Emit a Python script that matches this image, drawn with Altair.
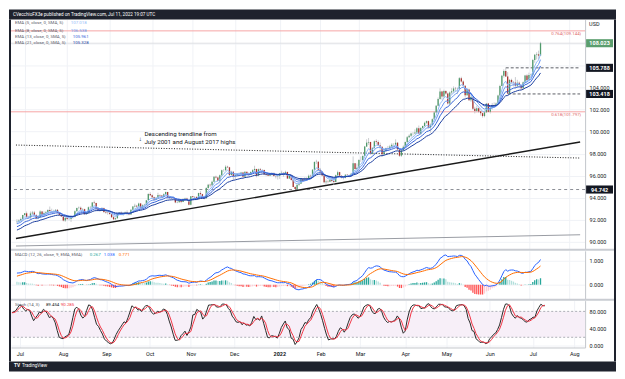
import altair as alt
import pandas as pd
import numpy as np

# ---------------- data (DXY daily) ----------------
# warm-up bars before the visible window (2021-05-14 .. 2021-06-24), used only for indicators
warm_first_open = 90.72
warm_close = [90.32, 90.18, 89.83, 90.20, 89.76, 90.01, 89.81, 89.60, 90.05, 89.97, 90.03, 89.83,
              89.85, 89.90, 90.52, 90.13, 89.93, 90.07, 90.09, 90.06, 90.55, 90.51, 90.53, 91.36,
              91.90, 92.23, 91.88, 91.74, 91.80, 91.81]
warm_high = [90.80, 90.40, 90.20, 90.40, 90.20, 90.15, 90.05, 89.85, 90.10, 90.15, 90.30, 90.05,
             89.95, 89.95, 90.63, 90.60, 90.15, 90.15, 90.15, 90.25, 90.60, 90.65, 90.65, 91.40,
             91.95, 92.40, 92.30, 91.95, 91.95, 91.90]
warm_low = [90.25, 90.05, 89.65, 89.70, 89.70, 89.70, 89.75, 89.53, 89.60, 89.85, 89.95, 89.80,
            89.53, 89.65, 89.90, 90.00, 89.90, 89.85, 89.95, 89.85, 89.95, 90.40, 90.35, 90.40,
            91.25, 91.80, 91.85, 91.50, 91.50, 91.60]

# visible bars 2021-06-25 .. 2022-07-11 (weekdays)
close = [91.85, 91.93, 92.06, 92.44,
         92.58, 92.23, 92.22, 92.57, 92.65, 92.42, 92.13, 92.23, 92.74, 92.43, 92.62, 92.68, 92.88, 92.80, 92.78, 92.78, 92.90, 92.65, 92.44, 92.30, 91.92, 92.17,
         92.06, 92.06, 92.27, 92.25, 92.78, 93.06, 93.08, 92.93, 92.96, 92.51, 92.64, 93.13, 93.14, 93.56, 93.52, 93.03, 92.86, 92.82, 93.07, 92.69, 92.65, 92.63,
         92.51, 92.23, 92.04, 92.13, 92.52, 92.63, 92.51, 92.58, 92.66, 92.62, 92.47, 92.90, 93.19, 93.28, 93.20, 93.48, 93.11, 93.32, 93.36, 93.76, 94.34, 94.23,
         94.04, 93.82, 94.00, 94.24, 94.20, 94.07, 94.32, 94.52, 94.04, 93.97, 93.96, 93.95, 93.57, 93.58, 93.77, 93.62, 93.87, 93.92, 93.80, 93.36, 94.12,
         94.06, 94.05, 93.88, 94.42, 94.32, 94.04, 93.96, 94.87, 95.17, 95.13, 95.45, 95.91, 95.83, 95.54, 96.04, 96.50, 96.49, 96.81, 96.76, 96.05, 96.35, 95.98,
         96.03, 96.14, 96.15, 96.28, 95.89, 96.35, 96.17, 96.08, 96.33, 96.50, 96.61, 96.01, 96.58, 96.52, 96.52, 96.12, 96.05, 96.00, 96.09, 96.21, 95.97, 95.95, 95.97,
         96.21, 96.26, 96.17, 96.34, 95.74, 95.99, 95.61, 94.98, 94.80, 95.17, 95.27, 95.73, 95.52, 95.75, 95.64, 95.99, 95.95, 96.54, 97.24, 97.26, 96.54,
         96.38, 96.02, 95.40, 95.47, 95.44, 95.64, 95.51, 95.43, 96.03, 96.32, 95.99, 95.80, 95.80, 96.08, 96.06, 96.02, 96.18, 97.13, 96.61, 96.71,
         97.43, 97.42, 97.79, 98.64, 99.00, 99.06, 97.98, 98.50, 99.12, 99.05, 98.77, 98.62, 97.95, 98.24, 98.50, 98.48, 98.64, 98.80, 98.80, 98.99, 98.39, 97.81, 98.31,
         98.63, 99.05, 99.48, 99.62, 99.83, 99.82, 99.91, 100.31, 99.81, 100.33, 100.50, 100.80, 100.95, 100.38, 100.62, 101.11, 101.74, 102.34, 102.96, 103.63, 103.19,
         103.69, 103.46, 102.55, 103.55, 103.66, 103.92, 103.90, 103.91, 104.85, 104.55, 104.17, 103.29, 103.82, 102.84, 103.14, 102.08, 101.86, 102.12, 101.83, 101.67, 101.41, 101.75,
         102.54, 101.81, 102.17, 102.42, 102.35, 102.55, 103.27, 104.15, 105.08, 105.51, 105.00, 103.46, 104.69, 104.48, 104.45, 104.17, 104.43, 104.22, 103.94, 104.48, 105.09, 104.69,
         105.14, 105.15, 106.51, 106.98, 107.01, 106.90, 108.02]
high = [92.05, 92.05, 92.20, 92.45,
        92.60, 92.75, 92.35, 92.75, 92.80, 92.80, 92.50, 92.40, 92.85, 92.80, 92.75, 92.80, 92.95, 93.20, 93.00, 92.90, 92.95, 92.95, 92.70, 92.60, 92.30, 92.20,
        92.20, 92.20, 92.35, 92.35, 92.85, 93.10, 93.20, 93.20, 93.05, 93.00, 92.70, 93.20, 93.25, 93.60, 93.73, 93.55, 93.10, 93.05, 93.15, 93.10, 92.80, 92.75,
        92.70, 92.55, 92.35, 92.20, 92.60, 92.70, 92.75, 92.65, 92.75, 92.85, 92.70, 92.95, 93.25, 93.45, 93.35, 93.55, 93.50, 93.40, 93.45, 93.80, 94.40, 94.50,
        94.30, 94.10, 94.05, 94.45, 94.30, 94.25, 94.40, 94.56, 94.50, 94.10, 94.10, 94.10, 93.95, 93.70, 93.85, 93.80, 93.95, 94.00, 94.00, 93.85, 94.15,
        94.15, 94.15, 94.15, 94.45, 94.60, 94.35, 94.10, 94.95, 95.25, 95.27, 95.55, 95.95, 96.00, 95.90, 96.10, 96.55, 96.60, 96.94, 96.90, 96.80, 96.45, 96.40,
        96.20, 96.25, 96.30, 96.35, 96.35, 96.40, 96.35, 96.30, 96.40, 96.60, 96.90, 96.60, 96.65, 96.70, 96.60, 96.55, 96.20, 96.10, 96.15, 96.30, 96.30, 96.05, 96.10,
        96.25, 96.45, 96.30, 96.45, 96.35, 96.10, 96.05, 95.65, 95.05, 95.20, 95.30, 95.80, 95.75, 95.85, 95.85, 96.10, 96.10, 96.60, 97.30, 97.44, 97.30,
        96.70, 96.40, 96.05, 95.65, 95.60, 95.75, 95.70, 95.80, 96.10, 96.45, 96.35, 96.05, 95.95, 96.15, 96.15, 96.10, 96.25, 97.75, 97.15, 97.10,
        97.50, 97.75, 97.85, 98.70, 99.30, 99.42, 99.05, 98.60, 99.20, 99.30, 99.20, 99.00, 98.65, 98.35, 98.55, 98.70, 98.80, 98.95, 98.95, 99.30, 99.05, 98.45, 98.40,
        98.75, 99.10, 99.60, 99.75, 99.90, 99.95, 100.20, 100.40, 100.55, 100.40, 100.55, 100.90, 101.00, 101.00, 100.75, 101.20, 101.85, 102.40, 103.10, 103.93, 103.70,
        103.80, 103.75, 103.55, 103.65, 103.95, 104.10, 104.05, 104.00, 104.95, 104.98, 104.65, 104.20, 103.95, 103.90, 103.35, 103.15, 102.25, 102.35, 102.20, 101.90, 101.70, 101.90,
        102.60, 102.60, 102.30, 102.60, 102.65, 102.65, 103.35, 104.25, 105.15, 105.65, 105.79, 105.40, 104.78, 104.80, 104.60, 104.95, 104.70, 104.55, 104.25, 104.55, 105.15, 105.20,
        105.35, 105.25, 106.60, 107.05, 107.20, 107.35, 108.15]
low = [91.60, 91.75, 91.85, 92.00,
       92.35, 92.20, 92.10, 92.00, 92.45, 92.30, 92.05, 92.05, 92.15, 92.35, 92.25, 92.50, 92.60, 92.75, 92.65, 92.60, 92.70, 92.60, 92.40, 92.25, 91.85, 91.80,
       91.95, 91.95, 91.80, 92.10, 92.20, 92.75, 92.95, 92.85, 92.80, 92.45, 92.45, 92.60, 92.95, 93.10, 93.40, 92.95, 92.80, 92.75, 92.80, 92.60, 92.55, 92.45,
       92.45, 92.15, 91.95, 92.00, 92.10, 92.45, 92.40, 92.35, 92.55, 92.40, 92.40, 92.45, 92.85, 93.10, 93.05, 93.10, 93.00, 93.05, 93.20, 93.35, 93.75, 94.15,
       93.90, 93.75, 93.80, 93.95, 94.10, 94.00, 94.05, 94.25, 93.95, 93.85, 93.85, 93.85, 93.50, 93.50, 93.55, 93.50, 93.60, 93.80, 93.75, 93.30, 93.30,
       93.95, 93.90, 93.85, 93.85, 94.20, 93.95, 93.85, 93.90, 94.80, 94.95, 95.05, 95.40, 95.75, 95.50, 95.30, 95.95, 96.35, 96.45, 96.70, 95.95, 96.05, 95.55,
       95.70, 95.95, 95.95, 96.05, 95.85, 95.85, 96.05, 95.95, 96.05, 96.25, 96.35, 95.85, 95.95, 96.40, 96.30, 96.05, 95.95, 95.95, 95.95, 96.00, 95.90, 95.75, 95.65,
       95.70, 96.05, 95.90, 96.05, 95.70, 95.70, 95.55, 94.95, 94.78, 94.74, 95.05, 95.25, 95.45, 95.45, 95.55, 95.60, 95.80, 95.85, 96.45, 97.05, 96.50,
       96.25, 95.95, 95.30, 95.15, 95.30, 95.40, 95.40, 95.15, 95.40, 95.95, 95.90, 95.75, 95.65, 95.75, 95.85, 95.85, 95.95, 96.15, 96.55, 96.60,
       96.65, 97.25, 97.35, 97.75, 98.60, 98.80, 97.90, 97.95, 98.45, 98.85, 98.70, 98.35, 97.70, 97.85, 98.15, 98.35, 98.35, 98.60, 98.55, 98.80, 98.30, 97.70, 97.70,
       98.30, 98.55, 98.95, 99.40, 99.50, 99.65, 99.75, 99.80, 99.75, 99.70, 100.20, 100.45, 100.70, 100.30, 99.90, 100.55, 101.05, 101.70, 102.30, 102.90, 102.90,
       103.05, 103.35, 102.45, 102.40, 103.40, 103.50, 103.60, 103.40, 103.85, 104.45, 104.05, 103.10, 103.25, 102.80, 102.70, 101.95, 101.65, 101.75, 101.70, 101.45, 101.27, 101.30,
       101.70, 101.75, 101.65, 102.00, 102.15, 102.25, 102.45, 103.15, 104.15, 104.90, 104.95, 103.42, 103.60, 104.35, 104.10, 103.90, 103.95, 103.95, 103.80, 103.85, 104.35, 104.50,
       104.70, 104.95, 104.95, 106.25, 106.55, 106.55, 106.90]

# time axis: first bar of each month (bar index) and its label
month_idx = [4, 26, 48, 70, 91, 113, 136, 157, 177, 200, 221, 243, 265, 286]
month_lbl = ["Jul", "Aug", "Sep", "Oct", "Nov", "Dec", "2022", "Feb", "Mar", "Apr", "May", "Jun", "Jul", "Aug"]

ema_periods = [5, 8, 13, 21]
ema_colors = ["#93bbf7", "#6796ef", "#3563d9", "#1d3f9f"]
ema_legend = ["EMA (5, close, 0, SMA, 5)", "EMA (8, close, 0, SMA, 5)",
              "EMA (13, close, 0, SMA, 5)", "EMA (21, close, 0, SMA, 5)"]
ema_values = ["107.018", "106.538", "105.961", "105.328"]

fib_levels = [109.144, 101.797]
fib_labels = ["0.764(109.144)", "0.618(101.797)"]
last_price = 108.023
level_full = 94.742
levels_partial = [105.788, 103.418]
levels_partial_start = [253, 254]

trend_x = [-0.5, 291.5]
trend_solid = [90.30, 99.06]
trend_dotted = [98.78, 97.60]
trend_grey = [89.62, 90.63]

ann_x = [66.0, 66.0, 63.0]
ann_v = [99.74, 99.05, 99.30]
ann_t = ["Descending trendline from", "July 2001 and August 2017 highs", "\u2193"]

macd_legend = ["MACD (12, 26, close, 9, EMA, EMA)", "0.267", "1.038", "0.771"]
stoch_legend = ["Stoch (14, 3)", "89.454", "90.285"]
header = "CVecchioFX3e published on TradingView.com, Jul 11, 2022 19:07 UTC"

# ---------------- indicators ----------------
nw = len(warm_close)
c = pd.Series(warm_close + close, dtype=float)
h = pd.Series(warm_high + high, dtype=float)
l = pd.Series(warm_low + low, dtype=float)
o = c.shift(1)
o.iloc[0] = warm_first_open
h = pd.concat([h, o, c], axis=1).max(axis=1)
l = pd.concat([l, o, c], axis=1).min(axis=1)


def ema(s, n):
    return s.ewm(span=n, adjust=False).mean()


macd = ema(c, 12) - ema(c, 26)
sig = ema(macd, 9)
hist = macd - sig
prev = hist.shift(1)
hcol = np.where(hist >= 0, np.where(hist > prev, "#26a69a", "#b2dfdb"),
                np.where(hist > prev, "#ffcdd2", "#ff5252"))
hh = h.rolling(14, min_periods=1).max()
ll = l.rolling(14, min_periods=1).min()
raw = 100 * (c - ll) / (hh - ll)
k = raw.rolling(3, min_periods=1).mean()
d = k.rolling(3, min_periods=1).mean()

UP, DOWN, WICK = "#4f9a6b", "#a8332f", "#b4b7bd"
full = pd.DataFrame({
    "open": o, "high": h, "low": l, "close": c,
    "macd": macd, "sig": sig, "hist": hist, "hcol": hcol, "k": k, "d": d,
})
for p in ema_periods:
    full[f"ema{p}"] = ema(c, p)
full["ccol"] = np.where(full["close"] >= full["open"], UP, DOWN)
full["wcol"] = WICK
df = full.iloc[nw:].reset_index(drop=True)
df["idx"] = np.arange(len(df))

# ---------------- layout ----------------
W, AX = 576, 29
H1, H2, H3 = 230, 48, 47
TOPBAR, TAXIS, BOTBAR = 10, 14, 10
XMAX = trend_x[1]
GRID = "#f0f2f6"
SEP = "#c3c6cc"
SEPBAND = "#c9ccd2"
FRAME = "#1e222d"
TXT = "#131722"
LEG = "#5d606b"
FONT = "Roboto"

xs = alt.Scale(domain=[trend_x[0], XMAX], nice=False, zero=False)
month_expr = " : ".join(f"datum.value == {i} ? '{s}'" for i, s in zip(month_idx, month_lbl)) + " : ''"
ax_plain = alt.Axis(values=month_idx, grid=True, gridColor=GRID, labels=False, ticks=False,
                    domain=False, title=None)
ax_time = alt.Axis(values=month_idx, labelExpr=month_expr, grid=True, gridColor=GRID, ticks=False,
                   domain=True, domainColor=SEP, labelFontSize=5.5, labelColor=TXT, labelFont=FONT,
                   labelPadding=4.5, labelFlush=False, labelOverlap=False,
                   labelFontWeight={"condition": {"test": "datum.value == 136", "value": "bold"},
                                    "value": "normal"},
                   title=None)


def y_axis(values, expr):
    return alt.Axis(orient="right", values=values, labelExpr=expr, grid=True, gridColor=GRID,
                    ticks=False, domain=True, domainColor=SEP, labelFontSize=5.5, labelColor=TXT,
                    labelFont=FONT, labelPadding=4, title=None)


ONE = alt.Data(values=[{"k": 1}])


def rect(x1, x2, y1, y2, color):
    return alt.Chart(ONE).mark_rect(color=color).encode(
        x=alt.value(x1), x2=alt.value(x2), y=alt.value(y1), y2=alt.value(y2))


def label(s, x, y, color, size=4.4, weight="normal", align="left"):
    return alt.Chart(ONE).mark_text(text=s, color=color, fontSize=size, fontWeight=weight,
                                    align=align, baseline="middle", font=FONT).encode(
        x=alt.value(x), y=alt.value(y))


base = alt.Chart(df)

# ---------- main price panel ----------
ysm = alt.Scale(domain=[89.36, 110.17], nice=False, zero=False)
yam = y_axis(list(range(90, 110, 2)), "datum.value > 105 ? '' : format(datum.value, '.3f')")


def Xm(f="idx:Q", axis=ax_plain):
    return alt.X(f, scale=xs, axis=axis)


def Ym(f):
    return alt.Y(f, scale=ysm, axis=yam)


fib_df = pd.DataFrame({"v": fib_levels, "lab": fib_labels})
fib_rule = alt.Chart(fib_df).mark_rule(color="#f6a5a5", strokeWidth=1).encode(y=Ym("v:Q"))
fib_text = alt.Chart(fib_df).mark_text(color="#e06a6a", fontSize=4.4, align="right", baseline="top",
                                       dy=1.5, font=FONT).encode(
    x=alt.value(W - 4), y=Ym("v:Q"), text="lab:N")
full_rule = alt.Chart(pd.DataFrame({"v": [level_full]})).mark_rule(
    color="#8c8f96", strokeDash=[3, 3], strokeWidth=1).encode(y=Ym("v:Q"))
last_rule = alt.Chart(pd.DataFrame({"v": [last_price]})).mark_rule(
    color="#d9dbdf", strokeWidth=0.8).encode(y=Ym("v:Q"))
part_df = pd.DataFrame({"x1": levels_partial_start, "x2": [XMAX] * 2, "v": levels_partial})
part_rule = alt.Chart(part_df).mark_rule(color="#4a4d55", strokeDash=[3, 2], strokeWidth=0.9).encode(
    x=Xm("x1:Q"), x2="x2:Q", y=Ym("v:Q"))


def trend(vals, color, width, dash=None):
    tdf = pd.DataFrame({"x1": [trend_x[0]], "x2": [trend_x[1]], "v1": [vals[0]], "v2": [vals[1]]})
    kw = dict(color=color, strokeWidth=width)
    if dash is not None:
        kw["strokeDash"] = dash
    return alt.Chart(tdf).mark_rule(**kw).encode(x=Xm("x1:Q"), x2="x2:Q", y=Ym("v1:Q"), y2="v2:Q")


t_grey = trend(trend_grey, "#9a9da4", 1.1)
t_solid = trend(trend_solid, "#1a1a1a", 1.4)
t_dot = trend(trend_dotted, "#222222", 1.0, [1, 1.6])

wick = base.mark_rule(strokeWidth=0.7).encode(
    x=Xm(), y=Ym("low:Q"), y2="high:Q", color=alt.Color("wcol:N", scale=None))
body = base.mark_bar(size=1.3).encode(
    x=Xm(), y=alt.Y("open:Q", scale=ysm, axis=yam, stack=False), y2="close:Q",
    color=alt.Color("ccol:N", scale=None))
ema_layers = [base.mark_line(color=col, strokeWidth=1).encode(x=Xm(), y=Ym(f"ema{p}:Q"))
              for p, col in zip(ema_periods, ema_colors)]

ann_df = pd.DataFrame({"x": ann_x, "v": ann_v, "t": ann_t})
ann = alt.Chart(ann_df).mark_text(align="left", baseline="middle", fontSize=6.2, color=TXT,
                                  font=FONT).encode(x=Xm("x:Q"), y=Ym("v:Q"), text="t:N")

BOX = "M-1,-0.3L1,-0.3L1,0.3L-1,0.3Z"
box_df = pd.DataFrame({"v": [last_price] + levels_partial + [level_full],
                       "lab": ["108.023", "105.788", "103.418", "94.742"],
                       "bg": ["#5b9e6e", "#131722", "#131722", "#131722"]})
box_pts = alt.Chart(box_df).mark_point(shape=BOX, filled=True, size=27 * 27, opacity=1,
                                       strokeWidth=0).encode(
    x=alt.value(W + 14.5), y=Ym("v:Q"), color=alt.Color("bg:N", scale=None))
box_txt = alt.Chart(box_df).mark_text(color="white", fontSize=5.5, fontWeight="bold", font=FONT,
                                      align="center", baseline="middle").encode(
    x=alt.value(W + 14.5), y=Ym("v:Q"), text="lab:N")

leg_y = [3.9, 11.0, 17.5, 24.0]
leg_vx = [60, 60, 62, 62]
legends = []
for i in range(4):
    legends.append(label(ema_legend[i], 4, leg_y[i], LEG))
    legends.append(label(ema_values[i], leg_vx[i], leg_y[i], ema_colors[i]))

main = alt.layer(
    fib_rule, full_rule, last_rule, part_rule, t_grey, t_solid, t_dot,
    wick, body, *ema_layers, fib_text, ann, box_pts, box_txt, *legends,
    label("USD", W + 4, 4.6, TXT, size=5.5),
    rect(-2, W + AX + 2, -TOPBAR, 0, FRAME),
    label(header, 2, -TOPBAR / 2, "#ffffff", size=4.6),
    rect(-2, 0, 0, H1 + 2, FRAME),
    rect(W + AX, W + AX + 2, 0, H1 + 2, FRAME),
).properties(width=W, height=H1)

# ---------- MACD panel ----------
ysd = alt.Scale(domain=[-0.57, 1.39], nice=False, zero=False)
yad = y_axis([0, 1], "format(datum.value, '.3f')")
hist_bar = base.mark_bar(size=1.3).encode(
    x=Xm(), y=alt.Y("hist:Q", scale=ysd, axis=yad, stack=False),
    color=alt.Color("hcol:N", scale=None))
macd_line = base.mark_line(color="#2962ff", strokeWidth=1).encode(
    x=Xm(), y=alt.Y("macd:Q", scale=ysd, axis=yad))
sig_line = base.mark_line(color="#ff6d00", strokeWidth=1).encode(
    x=Xm(), y=alt.Y("sig:Q", scale=ysd, axis=yad))
macd_panel = alt.layer(
    hist_bar, macd_line, sig_line,
    label(macd_legend[0], 4, 4.6, LEG),
    label(macd_legend[1], 79, 4.6, "#26a69a"),
    label(macd_legend[2], 93, 4.6, "#2962ff"),
    label(macd_legend[3], 108, 4.6, "#ff6d00"),
    rect(0, W + AX, -2, 0, SEPBAND),
    rect(-2, 0, -2, H2 + 2, FRAME),
    rect(W + AX, W + AX + 2, -2, H2 + 2, FRAME),
).properties(width=W, height=H2)

# ---------- Stochastic panel ----------
yss = alt.Scale(domain=[-3.6, 104.9], nice=False, zero=False)
yas = y_axis([0, 40, 80], "format(datum.value, '.3f')")
band = alt.Chart(ONE).mark_rect(color="#f7eff8").encode(
    x=alt.value(0), x2=alt.value(W), y=alt.YDatum(80, scale=yss, axis=yas), y2=alt.datum(20))
band_rules = alt.Chart(pd.DataFrame({"v": [80, 20]})).mark_rule(
    color="#9a9ea6", strokeDash=[2, 2], strokeWidth=0.8).encode(
    y=alt.Y("v:Q", scale=yss, axis=yas))
k_line = base.mark_line(color="#2a2a2a", strokeWidth=1).encode(
    x=Xm(axis=ax_time), y=alt.Y("k:Q", scale=yss, axis=yas))
d_line = base.mark_line(color="#f23645", strokeWidth=1).encode(
    x=Xm(axis=ax_time), y=alt.Y("d:Q", scale=yss, axis=yas))
stoch_panel = alt.layer(
    band, band_rules, k_line, d_line,
    label(stoch_legend[0], 4, 4, LEG),
    label(stoch_legend[1], 35, 4, TXT),
    label(stoch_legend[2], 50, 4, "#f23645"),
    rect(0, W + AX, -2, 0, SEPBAND),
    rect(-2, 0, -2, H3 + TAXIS, FRAME),
    rect(W + AX, W + AX + 2, -2, H3 + TAXIS, FRAME),
    rect(-2, W + AX + 2, H3 + TAXIS, H3 + TAXIS + BOTBAR, FRAME),
    label("TV", 3, H3 + TAXIS + BOTBAR / 2, "#ffffff", size=4.8, weight="bold"),
    label("TradingView", 11, H3 + TAXIS + BOTBAR / 2, "#ffffff", size=4.6),
).properties(width=W, height=H3)

chart = alt.vconcat(main, macd_panel, stoch_panel, spacing=2, bounds="flush").properties(
    padding=0, background="white").configure_view(stroke="transparent")

chart.save("out.html", embed_options={"renderer": "svg", "actions": False})
